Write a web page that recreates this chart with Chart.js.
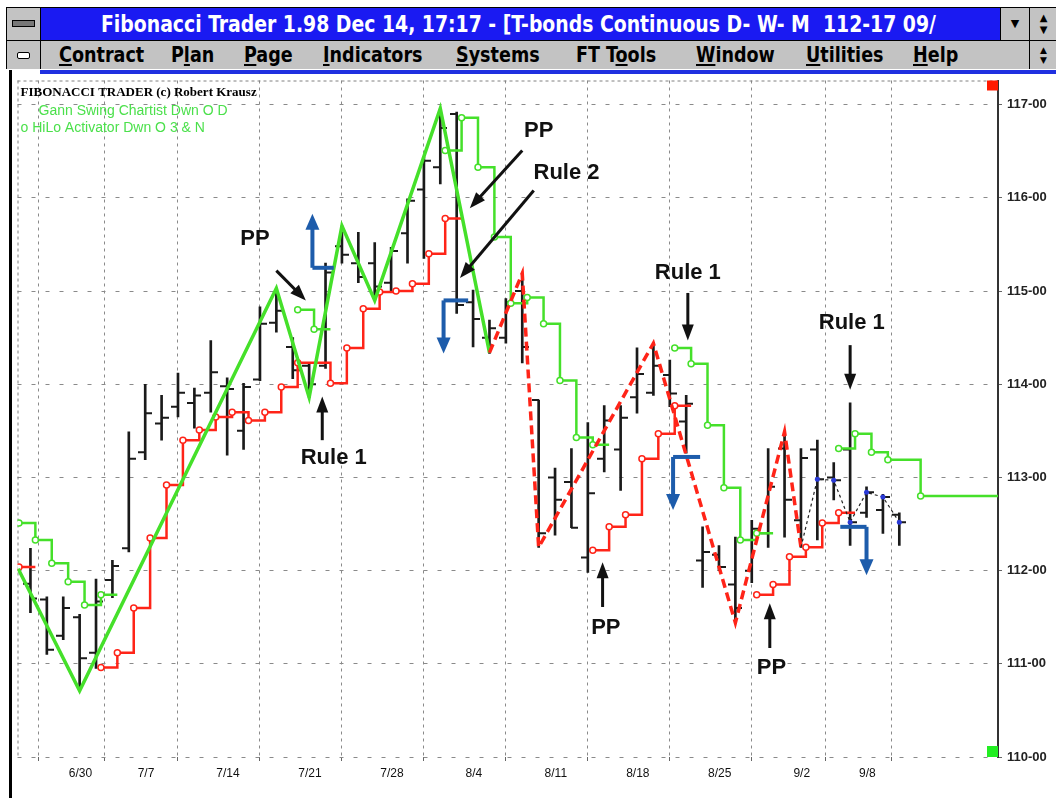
<!DOCTYPE html>
<html>
<head>
<meta charset="utf-8">
<script src="https://cdn.jsdelivr.net/npm/chart.js@4.4.0/dist/chart.umd.min.js"></script>
<style>
  body { margin:0; width:1056px; height:798px; overflow:hidden; background:#fff; position:relative;
         font-family:'Liberation Sans Narrow','DejaVu Sans Condensed','Liberation Sans',sans-serif; }
  .abs { position:absolute; }
  #title { left:6px; top:7px; width:1050px; height:32px; background:#1a1af2; border:1px solid #000; border-right:none; }
  #menu { left:6px; top:41px; width:1050px; height:28px; background:#c3c3c3; border-left:1px solid #000; }
  .box { background:#c3c3c3; border-right:1px solid #000; }
  .ttext { color:#fff; font-weight:bold; font-size:23px; white-space:nowrap; top:3px; transform:scaleX(0.91); transform-origin:0 50%; }
  .mi { font-weight:bold; font-size:21px; color:#000; top:2px; white-space:nowrap; transform:scaleX(0.93); transform-origin:0 50%; }
  .mi u { text-decoration-thickness:2px; text-underline-offset:2px; }
  .btn { background:#c3c3c3; border-left:1px solid #000; text-align:center; font-family:'DejaVu Sans',sans-serif; color:#000; }
  canvas { position:absolute; left:12px; top:75px; }
</style>
</head>
<body>
<div id="title" class="abs">
  <div class="abs box" style="left:0;top:0;width:33px;height:32px;">
    <div class="abs" style="left:5px;top:12px;width:21px;height:5px;background:#777;border:1px solid #000;"></div>
  </div>
  <div class="abs ttext" style="left:94px;">Fibonacci Trader 1.98 Dec 14, 17:17 - [T-bonds Continuous D- W- M&nbsp; 112-17 09/</div>
  <div class="abs btn" style="left:993px;top:0;width:28px;height:32px;font-size:11px;line-height:32px;">▼</div>
  <div class="abs btn" style="left:1022px;top:0;width:28px;height:32px;font-size:10px;line-height:12px;padding-top:4px;box-sizing:border-box;">▲<br>▼</div>
</div>
<div id="menu" class="abs">
  <div class="abs box" style="left:0;top:0;width:33px;height:28px;">
    <div class="abs" style="left:10px;top:11px;width:11px;height:5px;background:#fff;border:1px solid #000;border-radius:2px;"></div>
  </div>
  <div class="abs mi" style="left:52px;"><u>C</u>ontract</div>
  <div class="abs mi" style="left:164px;">P<u>l</u>an</div>
  <div class="abs mi" style="left:237px;"><u>P</u>age</div>
  <div class="abs mi" style="left:316px;"><u>I</u>ndicators</div>
  <div class="abs mi" style="left:449px;"><u>S</u>ystems</div>
  <div class="abs mi" style="left:569px;">FT T<u>o</u>ols</div>
  <div class="abs mi" style="left:689px;"><u>W</u>indow</div>
  <div class="abs mi" style="left:799px;"><u>U</u>tilities</div>
  <div class="abs mi" style="left:906px;"><u>H</u>elp</div>
  <div class="abs btn" style="left:1022px;top:0;width:28px;height:28px;font-size:9px;line-height:10px;padding-top:4px;box-sizing:border-box;">▲<br>▼</div>
</div>
<div class="abs" style="left:40px;top:70px;width:1016px;height:4px;background:#2030e0;"></div>
<div class="abs" style="left:9px;top:70px;width:3px;height:728px;background:#000;"></div>
<canvas id="chart" width="1044" height="723"></canvas>
<script>
// trading days shown (index = bar position)
const dates = ['6/25','6/26','6/27','6/30','7/1','7/2','7/3','7/7','7/8','7/9','7/10','7/11',
  '7/14','7/15','7/16','7/17','7/18','7/21','7/22','7/23','7/24','7/25','7/28','7/29','7/30','7/31','8/1',
  '8/4','8/5','8/6','8/7','8/8','8/11','8/12','8/13','8/14','8/15','8/18','8/19','8/20','8/21','8/22',
  '8/25','8/26','8/27','8/28','8/29','9/2','9/3','9/4','9/5','9/8','9/9','9/10'];
const tickDates = ['6/30','7/7','7/14','7/21','7/28','8/4','8/11','8/18','8/25','9/2','9/8'];
const priceTicks = [110, 111, 112, 113, 114, 115, 116, 117];

const open = [111.86,111.69,111.30,111.50,111.12,111.90,112.24,113.27,113.58,113.76,
  113.80,113.91,113.98,113.50,114.05,114.66,114.40,114.20,114.20,115.48,
  115.30,115.30,115.09,115.62,116.09,116.33,116.90,114.88,114.50,114.50,
  115.00,113.83,113.00,112.95,112.14,113.20,113.30,113.86,113.91,114.10,
  113.60,112.11,112.17,111.85,112.00,112.40,113.31,112.54,113.30,113.00,
  113.30,112.62,112.65,112.60];
const high = [112.24,111.72,111.72,111.53,111.91,112.11,113.49,114.00,113.88,114.12,
  113.96,114.47,114.07,114.01,114.83,115.03,114.50,114.22,115.30,115.70,
  115.63,115.52,115.47,115.99,116.44,116.96,116.92,115.01,114.69,114.92,
  115.19,113.83,113.10,113.31,113.59,113.77,113.77,114.39,114.45,114.26,
  113.88,112.47,112.27,112.36,112.54,113.31,113.49,113.31,113.40,113.16,
  113.80,112.90,112.82,112.62];
const low = [111.55,111.10,111.26,110.71,110.95,111.71,112.20,113.19,113.40,113.65,
  113.53,113.70,113.24,113.30,114.04,114.56,114.06,113.86,114.17,115.30,
  115.09,114.90,114.99,115.30,115.35,116.15,114.76,114.40,114.33,114.44,
  114.23,112.25,112.38,112.46,111.98,113.06,112.86,113.69,113.88,113.76,
  113.26,111.82,112.00,111.44,111.87,112.25,112.36,112.25,112.33,112.76,
  112.27,112.57,112.40,112.27];
const close = [111.70,111.15,111.60,111.06,111.67,112.05,113.20,113.69,113.64,113.91,
  113.88,114.13,113.95,113.97,114.65,114.79,114.15,114.00,115.20,115.39,
  115.15,115.05,115.43,115.97,116.40,116.75,114.85,114.70,114.60,114.88,
  114.40,112.40,112.76,112.46,112.83,113.61,113.64,114.11,114.20,113.90,
  113.79,112.20,112.04,111.60,112.45,112.90,112.76,113.21,112.98,112.97,
  112.52,112.84,112.79,112.52];

// Gann swing chartist turning points (bar index, price) and segment state
const swingIdx = [-0.75, 3, 15, 17, 19, 21, 25, 28, 30, 31, 38, 43, 46, 47, 48, 49, 50, 51, 52, 53];
const swingVal = [112.02, 110.71, 115.03, 113.86, 115.70, 114.90, 116.96, 114.34, 115.19, 112.25,
  114.44, 111.44, 113.49, 112.25, 112.98, 112.97, 112.52, 112.84, 112.79, 112.52];
const swingState = ['g','g','g','g','g','g','g','g','r','r','r','r','r','r','k','k','k','k','k','k'];

// HiLo activator, one value per slot starting one bar before 6/25 (null = not shown)
const greenStep = [112.51,112.33,112.08,111.88,111.63,111.74,111.74,
  null,null,null,null,null,null,null,null,null,null,
  114.80,114.59,114.59,
  null,null,null,null,null,null,
  116.51,116.86,116.33,115.58,114.87,114.93,114.65,114.04,113.43,113.35,113.35,
  null,null,null,
  114.39,114.22,113.56,112.89,112.33,112.40,112.40,
  null,null,null,
  113.31,113.47,113.27,113.19,113.19,
  112.80,112.80,112.80,112.80,112.80,112.80];
const redStep = [112.04,112.04,
  null,null,null,
  110.96,111.12,111.60,112.35,112.92,113.40,113.51,113.65,113.70,113.61,113.70,113.97,114.23,114.23,
  114.01,114.39,114.81,114.99,115.00,115.08,115.40,115.78,115.78,
  null,null,null,null,null,null,null,
  112.22,112.47,112.60,113.20,113.47,113.77,113.77,
  null,null,null,
  111.74,111.85,112.15,112.25,112.51,112.62,112.62,
  null,null,null,null,null,null,null,null,null];

// chart annotations: text with arrow, and the blue signal brackets
const notes = [
  { text:'PP',     at:[13.7, 115.56], from:[15.0, 115.22], to:[16.8, 114.90] },
  { text:'Rule 1', at:[18.5, 113.21], from:[17.8, 113.40], to:[17.8, 113.87] },
  { text:'PP',     at:[31.0, 116.72], from:[30.0, 116.51], to:[26.8, 115.89] },
  { text:'Rule 2', at:[32.7, 116.27], from:[30.7, 116.08], to:[26.2, 115.14] },
  { text:'Rule 1', at:[40.1, 115.20], from:[40.1, 114.98], to:[40.1, 114.47] },
  { text:'PP',     at:[35.1, 111.38], from:[34.9, 111.61], to:[34.9, 112.09] },
  { text:'PP',     at:[45.2, 110.96], from:[45.1, 111.17], to:[45.1, 111.65] },
  { text:'Rule 1', at:[50.1, 114.66], from:[50.0, 114.42], to:[50.0, 113.94] }
];
const signals = [
  { end:[18.5, 115.25], corner:[17.2, 115.25], tip:[17.2, 115.83] },
  { end:[26.7, 114.90], corner:[25.2, 114.90], tip:[25.2, 114.33] },
  { end:[40.85, 113.22], corner:[39.2, 113.22], tip:[39.2, 112.65] },
  { end:[49.4, 112.47], corner:[51.0, 112.47], tip:[51.0, 111.95] }
];

const GREEN = '#45e02a', RED = '#ff2418', BLUE = '#1d5cab', BARC = '#1a1a1a';
const stepShift = 0.3;

function stepDot(c) {
  const d = c.dataset.data, i = c.dataIndex, v = d[i].y;
  if (v == null) return 0;
  return (i > 0 && d[i - 1].y === v) ? 0 : 3;
}

function arrowHead(ctx, x0, y0, x1, y1, len, half) {
  const a = Math.atan2(y1 - y0, x1 - x0), c = Math.cos(a), s = Math.sin(a);
  ctx.beginPath();
  ctx.moveTo(x1, y1);
  ctx.lineTo(x1 - len * c + half * s, y1 - len * s - half * c);
  ctx.lineTo(x1 - len * c - half * s, y1 - len * s + half * c);
  ctx.closePath();
  ctx.fill();
}

function shaft(ctx, x0, y0, x1, y1, back) {
  const a = Math.atan2(y1 - y0, x1 - x0);
  ctx.beginPath();
  ctx.moveTo(x0, y0);
  ctx.lineTo(x1 - back * Math.cos(a), y1 - back * Math.sin(a));
  ctx.stroke();
}

const ohlcTicks = {
  id: 'ohlcTicks',
  afterDatasetDraw(chart, args) {
    if (args.index !== 0) return;
    const { ctx, scales: { x, y } } = chart;
    ctx.save();
    ctx.strokeStyle = BARC;
    ctx.lineWidth = 2;
    dates.forEach((d, i) => {
      const px = Math.round(x.getPixelForValue(i));
      const yo = y.getPixelForValue(open[i]), yc = y.getPixelForValue(close[i]);
      ctx.beginPath();
      ctx.moveTo(px - 7, yo); ctx.lineTo(px, yo);
      ctx.moveTo(px, yc); ctx.lineTo(px + 7, yc);
      ctx.stroke();
    });
    ctx.restore();
  }
};

const decor = {
  id: 'decor',
  beforeDatasetsDraw(chart) {
    const { ctx, chartArea: a } = chart;
    ctx.save();
    ctx.strokeStyle = '#808080';
    ctx.lineWidth = 1;
    ctx.setLineDash([3, 3]);
    ctx.beginPath();
    ctx.moveTo(a.left + 0.5, a.top); ctx.lineTo(a.left + 0.5, a.bottom);
    ctx.moveTo(a.left, a.top + 0.5); ctx.lineTo(a.right, a.top + 0.5);
    ctx.stroke();
    ctx.restore();
  },
  afterDatasetsDraw(chart) {
    const { ctx, chartArea: a, scales: { x, y } } = chart;
    const P = ([i, p]) => [x.getPixelForValue(i), y.getPixelForValue(p)];
    ctx.save();
    // blue signal brackets
    ctx.strokeStyle = BLUE; ctx.fillStyle = BLUE; ctx.lineWidth = 4;
    signals.forEach(s => {
      const [ex, ey] = P(s.end), [cx, cy] = P(s.corner), [tx, ty] = P(s.tip);
      ctx.beginPath(); ctx.moveTo(ex, ey); ctx.lineTo(cx, cy); ctx.stroke();
      shaft(ctx, cx, cy, tx, ty, 8);
      arrowHead(ctx, cx, cy, tx, ty, 16, 7);
    });
    // text notes with black arrows
    ctx.strokeStyle = '#111'; ctx.fillStyle = '#111'; ctx.lineWidth = 3;
    notes.forEach(n => {
      const [fx, fy] = P(n.from), [tx, ty] = P(n.to), [lx, ly] = P(n.at);
      shaft(ctx, fx, fy, tx, ty, 8);
      arrowHead(ctx, fx, fy, tx, ty, 16, 6);
      ctx.font = 'bold 22px "Liberation Sans", Arial, sans-serif';
      ctx.textAlign = 'center'; ctx.textBaseline = 'middle';
      ctx.fillText(n.text, lx, ly);
    });
    // corner markers
    ctx.fillStyle = '#ff1a00';
    ctx.fillRect(a.right - 11, a.top, 11, 10);
    ctx.fillStyle = '#22ee22';
    ctx.fillRect(a.right - 11, a.bottom - 11, 11, 11);
    // legend lines
    ctx.textAlign = 'left'; ctx.textBaseline = 'middle';
    ctx.fillStyle = '#000';
    ctx.font = 'bold 13px "Liberation Serif", serif';
    ctx.fillText('FIBONACCI TRADER (c) Robert Krausz', a.left + 3, a.top + 12);
    ctx.fillStyle = '#4be04b';
    ctx.font = '14px "Liberation Sans", Arial, sans-serif';
    ctx.fillText('Gann Swing Chartist Dwn O D', a.left + 21, a.top + 31);
    ctx.fillText('o HiLo Activator Dwn O 3 & N', a.left + 3, a.top + 48);
    ctx.restore();
  }
};

const stepLine = (vals, color, label) => ({
  label,
  data: vals.map((v, k) => ({ x: k - 1 + stepShift, y: v })),
  stepped: 'before',
  borderColor: color,
  borderWidth: 2.5,
  pointRadius: stepDot,
  pointBackgroundColor: '#fff',
  pointBorderColor: color,
  pointBorderWidth: 1.5,
  spanGaps: false,
  order: 3
});

const config = {
  type: 'line',
  data: {
    datasets: [
      {
        type: 'bar',
        label: 'T-bonds',
        data: dates.map((d, i) => ({ x: i, y: [low[i], high[i]] })),
        backgroundColor: BARC,
        barThickness: 2,
        order: 5
      },
      stepLine(redStep, RED, 'HiLo Activator low'),
      stepLine(greenStep, GREEN, 'HiLo Activator high'),
      {
        label: 'Gann Swing Chartist',
        data: swingIdx.map((v, k) => ({ x: v, y: swingVal[k] })),
        borderWidth: 3.5,
        borderColor: GREEN,
        segment: {
          borderColor: s => ({ g: GREEN, r: RED, k: '#222' })[swingState[s.p1DataIndex]],
          borderDash: s => ({ g: [], r: [9, 5], k: [3, 3] })[swingState[s.p1DataIndex]],
          borderWidth: s => swingState[s.p1DataIndex] === 'k' ? 1.2 : 3.5
        },
        pointRadius: c => swingState[c.dataIndex] === 'k' ? 2.5 : 0,
        pointBackgroundColor: '#2a3ad8',
        pointBorderWidth: 0,
        order: 1
      }
    ]
  },
  options: {
    responsive: false,
    animation: false,
    events: [],
    layout: { padding: { left: 5, top: 5, right: 0, bottom: 0 } },
    plugins: { legend: { display: false }, tooltip: { enabled: false } },
    scales: {
      x: {
        type: 'linear',
        min: -0.79,
        max: 59.02,
        offset: false,
        afterBuildTicks: s => { s.ticks = tickDates.map(t => ({ value: dates.indexOf(t) - 0.5 })); },
        afterFit: s => { s.height = 41; s.paddingLeft = 0; s.paddingRight = 0; },
        ticks: {
          autoSkip: false, maxRotation: 0, padding: 5, labelOffset: 9,
          color: '#111',
          font: { family: '"Liberation Sans", Arial, sans-serif', size: 12 },
          callback: (v, i) => tickDates[i]
        },
        grid: { color: '#8a8a8a', lineWidth: 1, tickLength: 4, tickColor: '#666' },
        border: { display: false, dash: [3, 4] }
      },
      y: {
        position: 'right',
        min: 110,
        max: 117.26,
        afterBuildTicks: s => { s.ticks = priceTicks.map(v => ({ value: v })); },
        afterFit: s => { s.width = 58; s.paddingTop = 0; s.paddingBottom = 0; },
        ticks: {
          padding: 5, color: '#222',
          font: { family: '"Liberation Sans", Arial, sans-serif', size: 13, weight: 'bold' },
          callback: v => v + '-00'
        },
        grid: { color: '#8a8a8a', lineWidth: 1, tickLength: 4, tickColor: '#666' },
        border: { display: true, color: '#333', width: 2, dash: [4, 10] }
      }
    }
  },
  plugins: [ohlcTicks, decor]
};

window.myChart = new Chart(document.getElementById('chart').getContext('2d'), config);
</script>
</body>
</html>
